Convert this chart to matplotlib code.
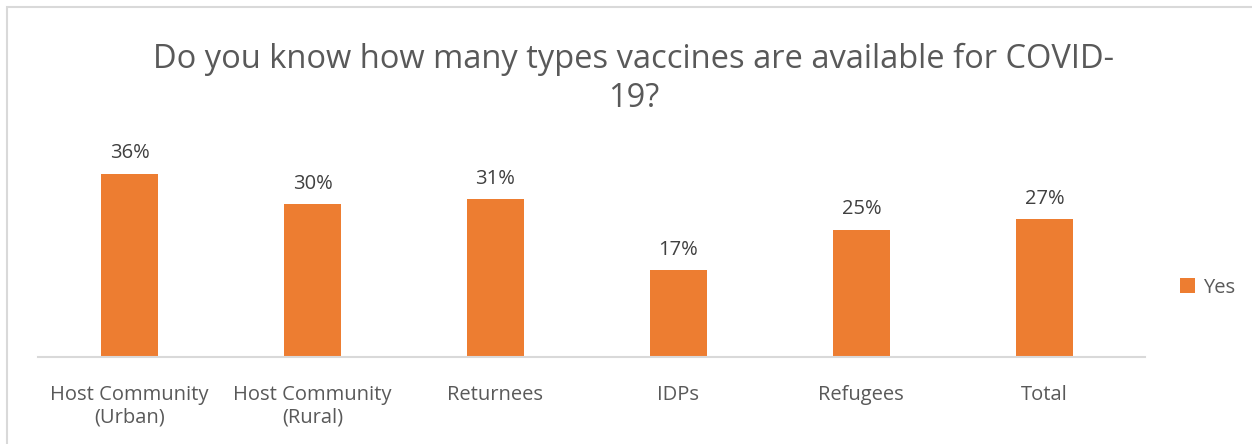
import matplotlib
matplotlib.use("Agg")
import matplotlib.pyplot as plt
from matplotlib.patches import Rectangle

categories = ["Host Community\n(Urban)", "Host Community\n(Rural)", "Returnees",
              "IDPs", "Refugees", "Total"]
yes_pct = [36, 30, 31, 17, 25, 27]

title = "Do you know how many types vaccines are available for COVID-\n19?"
bar_color = "#ED7D31"

plt.rcParams['font.family'] = ['Open Sans', 'DejaVu Sans']

fig = plt.figure(figsize=(12.52, 4.44), dpi=100)
ax = fig.add_axes([0.0304, 0.196, 0.8841, 0.459])

x = list(range(len(categories)))
bars = ax.bar(x, yes_pct, width=0.315, color=bar_color, label="Yes")

for xi, v in zip(x, yes_pct):
    ax.text(xi, v + 2.0, f"{v}%", ha="center", va="bottom", fontsize=14.5,
            color="#404040", clip_on=False)

ax.set_xlim(-0.5, len(categories) - 0.45)
ax.set_ylim(0, 40)
ax.set_xticks(x)
ax.set_xticklabels(categories, fontsize=14.5, color="#595959", linespacing=1.2)
ax.tick_params(axis="x", length=0, pad=20)
ax.set_yticks([])
for s in ["top", "right", "left"]:
    ax.spines[s].set_visible(False)
ax.spines["bottom"].set_color("#D9D9D9")
ax.spines["bottom"].set_linewidth(1.5)

fig.text(0.506, 0.823, title, ha="center", va="center", fontsize=23.5,
         color="#595959", linespacing=1.25)

leg = fig.legend(handles=[bars], labels=["Yes"], loc="center left",
                 bbox_to_anchor=(0.928, 0.352), frameon=False, fontsize=14.5,
                 handlelength=0.75, handleheight=0.75, handletextpad=0.4)
for t in leg.get_texts():
    t.set_color("#595959")

# chart border
fig.patches.append(Rectangle((7 / 1252, -0.1), 1.2, (437 / 444) + 0.1,
                             transform=fig.transFigure, fill=False,
                             edgecolor="#D9D9D9", linewidth=1.5))

fig.savefig("out.png", dpi=100)
